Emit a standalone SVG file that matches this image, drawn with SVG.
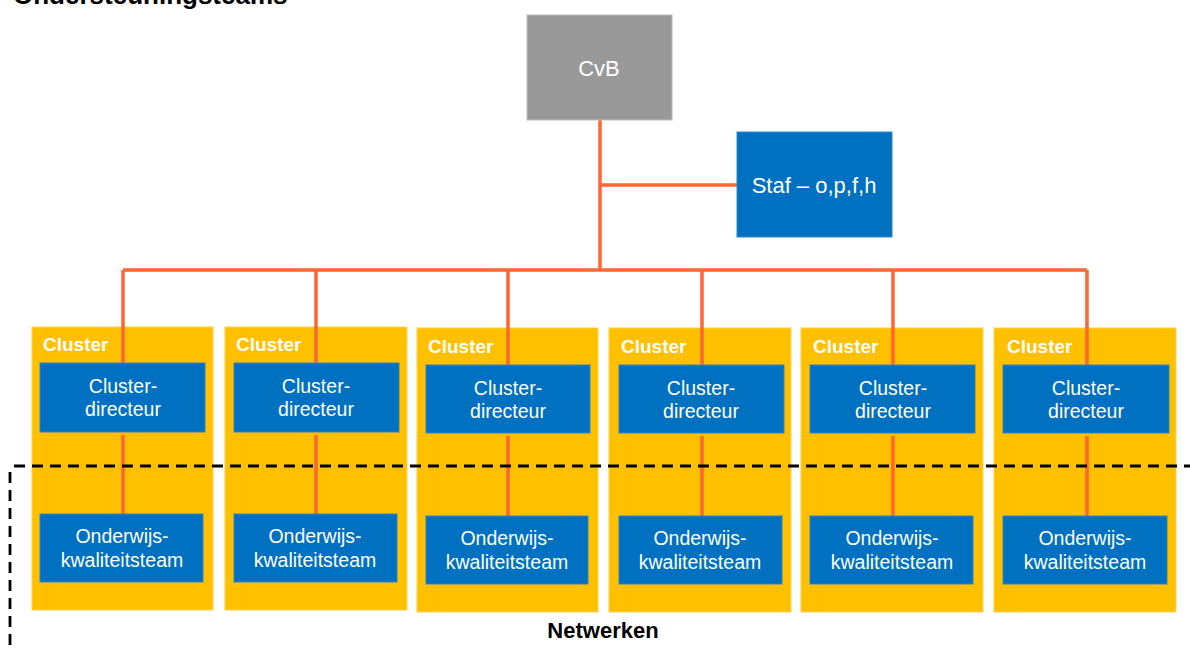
<svg xmlns="http://www.w3.org/2000/svg" width="1190" height="652" viewBox="0 0 1190 652">
<style>
.cl{fill:#FFC000;stroke:#FFD24D;stroke-width:1}
.bx{fill:#0070C0;stroke:#2E86C8;stroke-width:1}
.t{font-family:"Liberation Sans",Arial,sans-serif;fill:#fff;text-anchor:middle;font-size:19.5px}
.tb{font-family:"Liberation Sans",Arial,sans-serif;font-weight:bold}
.ln{stroke:#FF6633;stroke-width:3.5;fill:none}
.dash{stroke:#000;stroke-width:2.8;fill:none;stroke-dasharray:11 7}
</style>
<rect width="1190" height="652" fill="#fff"/>
<text class="tb" x="13" y="4" font-size="26" fill="#000">Ondersteuningsteams</text>

<g id="clusters-bg">
<rect class="cl" x="32" y="327" width="181" height="283"/>
<rect class="cl" x="225" y="327" width="182" height="283"/>
<rect class="cl" x="417" y="328" width="181" height="284"/>
<rect class="cl" x="609" y="328" width="182" height="284"/>
<rect class="cl" x="801" y="328" width="182" height="284"/>
<rect class="cl" x="994" y="328" width="182" height="284"/>
</g>

<g id="connectors">
<path class="ln" d="M600 120 V270 M600 185 H737 M123 270 H1087 M123 270 V363 M316 270 V363 M508 270 V365 M702 270 V365 M893 270 V365 M1087 270 V365"/>
<path class="ln" d="M123 435 V514 M316 435 V514 M508 436 V516 M702 436 V516 M893 436 V516 M1087 436 V516"/>
</g>

<g id="cvb">
<rect x="527" y="15" width="145" height="105" fill="#999999" stroke="#BDBDBD" stroke-width="1"/>
<text class="t" x="599" y="76" style="font-size:22px">CvB</text>
</g>
<g id="staf">
<rect class="bx" x="737" y="132" width="155" height="105"/>
<text class="t" x="814" y="193" style="font-size:22px">Staf – o,p,f,h</text>
</g>

<g id="cluster1">
<text class="tb" x="43" y="351" font-size="19" fill="#fff">Cluster</text>
<rect class="bx" x="40" y="363" width="165" height="69"/>
<text class="t" x="123" y="393">Cluster-</text>
<text class="t" x="123" y="416">directeur</text>
<rect class="bx" x="40" y="514" width="163" height="68"/>
<text class="t" x="122" y="543">Onderwijs-</text>
<text class="t" x="122" y="567">kwaliteitsteam</text>
</g>
<g id="cluster2">
<text class="tb" x="236" y="351" font-size="19" fill="#fff">Cluster</text>
<rect class="bx" x="234" y="363" width="165" height="69"/>
<text class="t" x="316" y="393">Cluster-</text>
<text class="t" x="316" y="416">directeur</text>
<rect class="bx" x="234" y="514" width="163" height="68"/>
<text class="t" x="315" y="543">Onderwijs-</text>
<text class="t" x="315" y="567">kwaliteitsteam</text>
</g>
<g id="cluster3">
<text class="tb" x="428" y="353" font-size="19" fill="#fff">Cluster</text>
<rect class="bx" x="426" y="365" width="164" height="68"/>
<text class="t" x="508" y="395">Cluster-</text>
<text class="t" x="508" y="418">directeur</text>
<rect class="bx" x="426" y="516" width="162" height="68"/>
<text class="t" x="507" y="545">Onderwijs-</text>
<text class="t" x="507" y="569">kwaliteitsteam</text>
</g>
<g id="cluster4">
<text class="tb" x="621" y="353" font-size="19" fill="#fff">Cluster</text>
<rect class="bx" x="619" y="365" width="165" height="68"/>
<text class="t" x="701" y="395">Cluster-</text>
<text class="t" x="701" y="418">directeur</text>
<rect class="bx" x="619" y="516" width="163" height="68"/>
<text class="t" x="700" y="545">Onderwijs-</text>
<text class="t" x="700" y="569">kwaliteitsteam</text>
</g>
<g id="cluster5">
<text class="tb" x="813" y="353" font-size="19" fill="#fff">Cluster</text>
<rect class="bx" x="810" y="365" width="165" height="68"/>
<text class="t" x="893" y="395">Cluster-</text>
<text class="t" x="893" y="418">directeur</text>
<rect class="bx" x="810" y="516" width="163" height="68"/>
<text class="t" x="892" y="545">Onderwijs-</text>
<text class="t" x="892" y="569">kwaliteitsteam</text>
</g>
<g id="cluster6">
<text class="tb" x="1007" y="353" font-size="19" fill="#fff">Cluster</text>
<rect class="bx" x="1003" y="365" width="166" height="68"/>
<text class="t" x="1086" y="395">Cluster-</text>
<text class="t" x="1086" y="418">directeur</text>
<rect class="bx" x="1003" y="516" width="164" height="68"/>
<text class="t" x="1085" y="545">Onderwijs-</text>
<text class="t" x="1085" y="569">kwaliteitsteam</text>
</g>

<g id="netwerken">
<path class="dash" d="M14 466 H1190"/>
<path class="dash" d="M10 472 V652"/>
<text class="tb" x="603" y="638" font-size="22" fill="#000" text-anchor="middle">Netwerken</text>
</g>
</svg>
